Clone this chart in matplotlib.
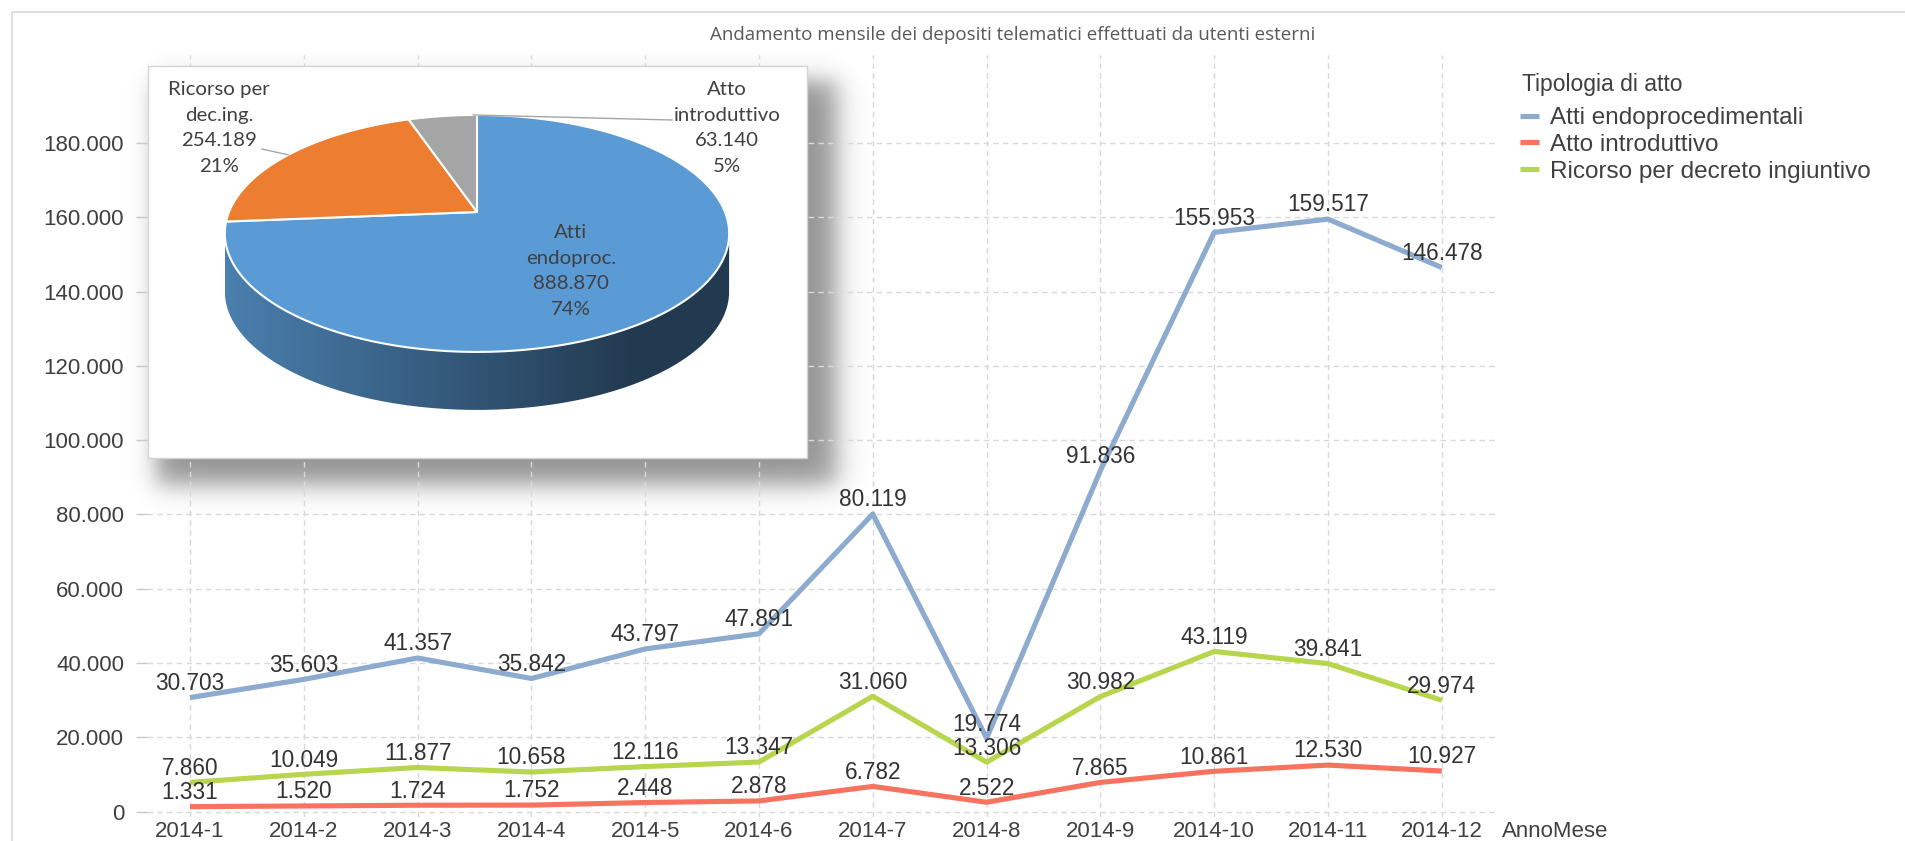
import numpy as np
import matplotlib
matplotlib.use("Agg")
import matplotlib.pyplot as plt
from matplotlib.patches import Polygon, Rectangle, PathPatch
from matplotlib.path import Path
from matplotlib.ticker import FuncFormatter

# ── data ──────────────────────────────────────────────────────────────────────
months = ["2014-1", "2014-2", "2014-3", "2014-4", "2014-5", "2014-6",
          "2014-7", "2014-8", "2014-9", "2014-10", "2014-11", "2014-12"]
atti_endo = [30703, 35603, 41357, 35842, 43797, 47891,
             80119, 19774, 91836, 155953, 159517, 146478]
atto_intro = [1331, 1520, 1724, 1752, 2448, 2878,
              6782, 2522, 7865, 10861, 12530, 10927]
ricorso = [7860, 10049, 11877, 10658, 12116, 13347,
           31060, 13306, 30982, 43119, 39841, 29974]

series_names = ["Atti endoprocedimentali", "Atto introduttivo",
                "Ricorso per decreto ingiuntivo"]
series_colors = ["#8DAACF", "#F8735F", "#B8D54E"]

# pie: yearly totals, clockwise from 12 o'clock
pie_labels = ["Atti\nendoproc.", "Ricorso per\ndec.ing.", "Atto\nintroduttivo"]
pie_values = [sum(atti_endo), sum(ricorso), sum(atto_intro)]
pie_colors = ["#5B9BD5", "#ED7D31", "#A5A5A5"]


def fmt(v):
    return f"{int(v):,}".replace(",", ".")


plt.rcParams["font.family"] = ["Liberation Sans", "DejaVu Sans"]
TXT = "#404040"
PIE_FONT = ["Lato", "Liberation Sans", "DejaVu Sans"]

W, H = 1905, 841
fig = plt.figure(figsize=(W / 100, H / 100), dpi=100)
fx = lambda px: px / W
fy = lambda py: 1 - py / H

# ── drop shadow of the inset box (behind the gridlines) ───────────────────────
yy, xx = np.mgrid[0:H, 0:W]
step = lambda t: 0.5 * (1 + np.tanh(t))
shade = 0.42 * step((xx - 156) / 14) * step((836 - xx) / 16) \
             * step((yy - 80) / 14) * step((484 - yy) / 15)
rgba = np.zeros((H, W, 4))
rgba[..., 3] = shade
fig.figimage(rgba, 0, 0, origin="upper", zorder=-1)

# ── line chart ────────────────────────────────────────────────────────────────
ax = fig.add_axes([fx(147), fy(817), fx(1497) - fx(147), (817 - 55) / H])
ax.set_facecolor("none")
x = np.arange(len(months))
all_series = [atti_endo, atto_intro, ricorso]
handles = []
for vals, name, col in zip(all_series, series_names, series_colors):
    ln, = ax.plot(x, vals, color=col, lw=3.7, solid_joinstyle="round",
                  solid_capstyle="butt", label=name, zorder=3)
    handles.append(ln)
    for xi, v in zip(x, vals):
        ax.annotate(fmt(v), (xi, v), xytext=(0, 5.5), textcoords="offset points",
                    ha="center", va="baseline", fontsize=16.3, color="#333333",
                    zorder=4)

ax.set_xlim(-0.378, 11.485)
ax.set_ylim(-1450, 203700)
ax.set_xticks(x)
ax.set_xticklabels(months)
ax.set_yticks(np.arange(0, 180001, 20000))
ax.yaxis.set_major_formatter(FuncFormatter(lambda v, p: fmt(v)))
ax.grid(True, color="#D9D9D9", linestyle=(0, (4, 3)), linewidth=1.0)
for s in ax.spines.values():
    s.set_visible(False)
ax.tick_params(axis="y", length=8, width=1, color="#C8C8C8", pad=8.5,
               labelsize=16, labelcolor=TXT)
ax.tick_params(axis="x", length=0, pad=3, labelsize=16, labelcolor=TXT)

fig.text(fx(1502), fy(837), "AnnoMese", ha="left", va="baseline",
         fontsize=16, color=TXT)
fig.text(fx(1013), fy(40), "Andamento mensile dei depositi telematici effettuati da utenti esterni",
         ha="center", va="baseline", fontsize=13.5, color="#595959",
         family=["Open Sans", "DejaVu Sans"])

# legend: title as its own text, entries as a figure legend
fig.text(fx(1522), fy(84), "Tipologia di atto", ha="left", va="center",
         fontsize=16.5, color=TXT)
leg = fig.legend(handles, series_names, loc="upper left",
                 bbox_to_anchor=(fx(1520), fy(107)),
                 frameon=False, fontsize=17.5,
                 handlelength=0.8, handletextpad=0.45, labelspacing=0.2,
                 borderpad=0, borderaxespad=0)
for t in leg.get_texts():
    t.set_color(TXT)

# ── overlay in pixel coordinates: frame, inset box, 3D pie ────────────────────
ov = fig.add_axes([0, 0, 1, 1], zorder=5)
ov.set_facecolor("none")
ov.axis("off")
ov.add_patch(Rectangle((12, 12), W, H, facecolor="none", edgecolor="#D9D9D9", lw=1.2))
ov.add_patch(Rectangle((148, 66), 659, 392, facecolor="white",
                       edgecolor="#D4D4D4", lw=1.0, zorder=1))

cx, cy = 477, 212          # apex of the pie
R, r, k = 248, 114.6, 0.181
depth = 58


def proj(theta_deg, dz=0.0):
    th = np.radians(theta_deg)
    d = 1 + k * np.sin(th)
    return cx + R * np.cos(th) / d, cy - r * np.sin(th) / d + dz


total = float(sum(pie_values))
fracs = [v / total for v in pie_values]
starts = 90 - 360 * np.concatenate([[0], np.cumsum(fracs)[:-1]])
ends = starts - 360 * np.array(fracs)

# side wall (front half only)
th_L = -180 + np.degrees(np.arcsin(k))
th_R = -np.degrees(np.arcsin(k))
xmin, xmax = cx - R / np.sqrt(1 - k * k), cx + R / np.sqrt(1 - k * k)
for t0, t1, col in zip(starts, ends, pie_colors):
    lo, hi = max(min(t0, t1), th_L), min(max(t0, t1), th_R)
    if lo >= hi:
        continue
    th = np.linspace(lo, hi, 200)
    tx, ty = proj(th)
    bx, by = proj(th[::-1], depth)
    verts = np.column_stack([np.r_[tx, bx, tx[0]], np.r_[ty, by, ty[0]]])
    patch = PathPatch(Path(verts), facecolor="none", edgecolor="none", zorder=2)
    ov.add_patch(patch)
    base = np.array(matplotlib.colors.to_rgb(col))
    gx = np.linspace(0, 1, 400)
    fac = 0.82 - 0.44 * np.clip(gx / 0.8, 0, 1)
    grad = (base[None, :] * fac[:, None])[None, :, :]
    im = ov.imshow(grad, extent=(xmin, xmax, cy + r / (1 - k) + depth + 5, cy - 10),
                   aspect="auto", interpolation="bilinear", zorder=2)
    im.set_clip_path(patch)

# top face
for t0, t1, col in zip(starts, ends, pie_colors):
    th = np.linspace(t0, t1, 200)
    px, py = proj(th)
    verts = np.column_stack([np.r_[cx, px], np.r_[cy, py]])
    ov.add_patch(Polygon(verts, closed=True, facecolor=col, edgecolor="white",
                         lw=1.5, joinstyle="round", zorder=3))

# labels
lab_pos = [(571, 271), (219, 128), (727, 128)]
for lab, v, f, (lx, lyy) in zip(pie_labels, pie_values, fracs, lab_pos):
    ov.text(lx, lyy, f"{lab}\n{fmt(v)}\n{round(f * 100)}%", ha="center",
            va="center", fontsize=14.7, color=TXT, family=PIE_FONT,
            linespacing=1.6, zorder=5)

# leader lines
mid_r = (starts[1] + ends[1]) / 2
ex, ey = proj(mid_r)
ov.plot([262, ex], [149, ey], color="#A6A6A6", lw=1.0, zorder=4)
ex, ey = proj(ends[2] + 1)
ov.plot([ex, 672], [ey, 120], color="#A6A6A6", lw=1.0, zorder=4)

ov.set_xlim(0, W)
ov.set_ylim(H, 0)

fig.savefig("out.png", dpi=100, facecolor="white")
